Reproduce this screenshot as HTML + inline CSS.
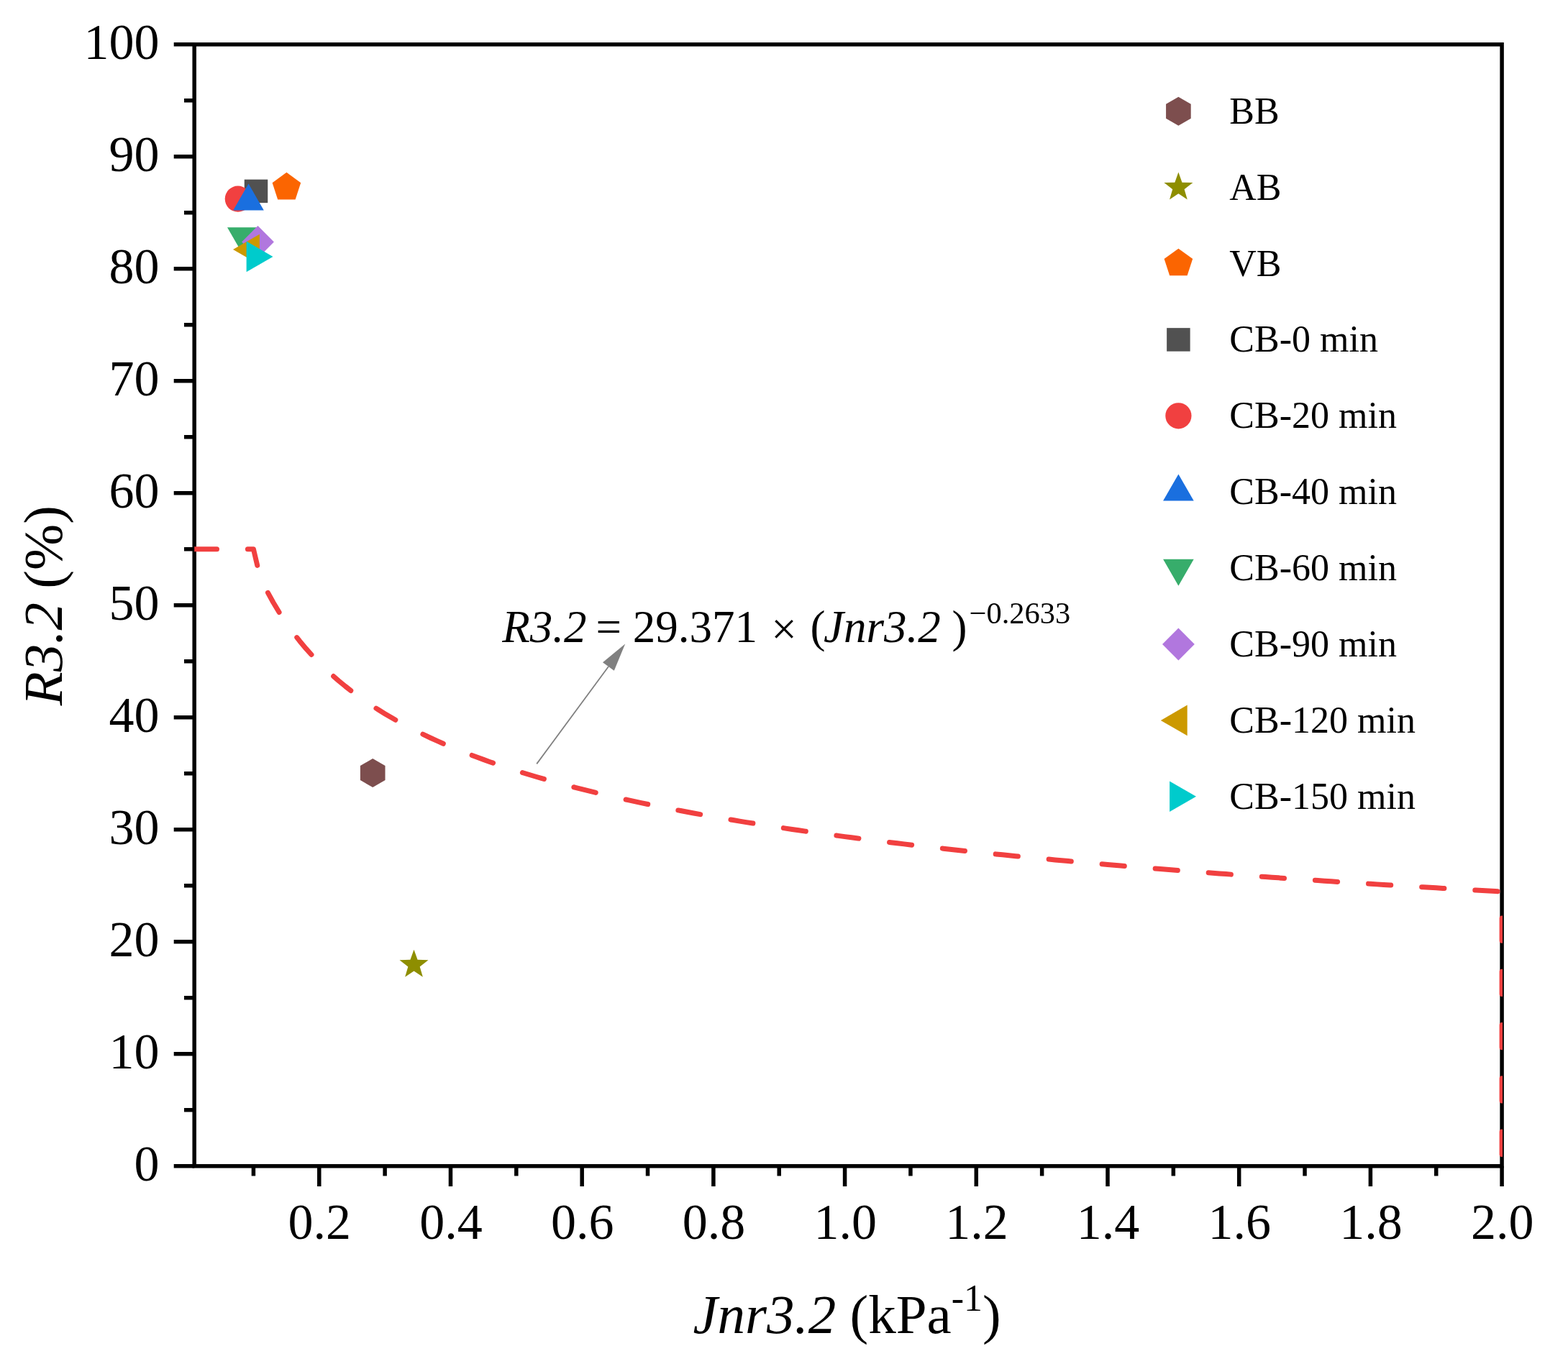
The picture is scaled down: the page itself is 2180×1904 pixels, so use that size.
<!DOCTYPE html>
<html><head><meta charset="utf-8"><title>R3.2 vs Jnr3.2</title>
<style>html,body{margin:0;padding:0;background:#fff;}svg{display:block;}text{font-family:"Liberation Serif", "Times New Roman", serif;fill:#000;}</style></head><body>
<svg width="2180" height="1904" viewBox="0 0 2180 1904">
<rect width="2180" height="1904" fill="#fff"/>
<rect x="270.20" y="61.80" width="1817.90" height="1560.00" fill="none" stroke="#000" stroke-width="5.50" stroke-linejoin="miter"/>
<path d="M270.20,1621.80H241.70M270.20,1543.80H256.00M270.20,1465.80H241.70M270.20,1387.80H256.00M270.20,1309.80H241.70M270.20,1231.80H256.00M270.20,1153.80H241.70M270.20,1075.80H256.00M270.20,997.80H241.70M270.20,919.80H256.00M270.20,841.80H241.70M270.20,763.80H256.00M270.20,685.80H241.70M270.20,607.80H256.00M270.20,529.80H241.70M270.20,451.80H256.00M270.20,373.80H241.70M270.20,295.80H256.00M270.20,217.80H241.70M270.20,139.80H256.00M270.20,61.80H241.70M352.42,1621.80V1635.40M443.77,1621.80V1650.00M535.12,1621.80V1635.40M626.47,1621.80V1650.00M717.82,1621.80V1635.40M809.18,1621.80V1650.00M900.53,1621.80V1635.40M991.88,1621.80V1650.00M1083.23,1621.80V1635.40M1174.58,1621.80V1650.00M1265.93,1621.80V1635.40M1357.29,1621.80V1650.00M1448.64,1621.80V1635.40M1539.99,1621.80V1650.00M1631.34,1621.80V1635.40M1722.69,1621.80V1650.00M1814.04,1621.80V1635.40M1905.40,1621.80V1650.00M1996.75,1621.80V1635.40M2088.10,1621.80V1650.00" stroke="#000" stroke-width="5.50" fill="none"/>
<clipPath id="pc"><rect x="270.20" y="61.80" width="1818.80" height="1560.00"/></clipPath>
<g clip-path="url(#pc)">
<path d="M270.20,763.80 L279.34,763.80 L288.47,763.80 L297.61,763.80 L306.74,763.80 L315.88,763.80 L325.01,763.80 L334.15,763.80 L343.28,763.80 L352.42,763.80 L361.55,802.50 L362.89,805.21" fill="none" stroke="#F14040" stroke-width="7" stroke-linecap="round" stroke-linejoin="round" stroke-dasharray="31.3 42.9"/>
<path d="M362.89,805.21 L370.69,821.05 L379.82,837.75 L388.96,852.90 L398.09,866.75 L407.23,879.47 L416.36,891.22 L425.50,902.14 L434.63,912.31 L443.77,921.83 L452.90,930.76 L462.04,939.17 L471.17,947.12 L480.31,954.63 L489.44,961.77 L498.58,968.55 L507.71,975.01 L516.85,981.17 L525.98,987.06 L535.12,992.70 L544.26,998.11 L553.39,1003.30 L562.53,1008.29 L571.66,1013.10 L580.80,1017.73 L589.93,1022.19 L599.07,1026.50 L608.20,1030.67 L617.34,1034.69 L626.47,1038.60 L635.61,1042.37 L644.74,1046.04 L653.88,1049.60 L663.01,1053.05 L672.15,1056.40 L681.28,1059.67 L690.42,1062.84 L699.55,1065.93 L708.69,1068.94 L717.82,1071.87 L726.96,1074.73 L736.09,1077.52 L745.23,1080.25 L754.36,1082.91 L763.50,1085.50 L772.63,1088.04 L781.77,1090.52 L790.91,1092.95 L800.04,1095.32 L809.18,1097.65 L818.31,1099.93 L827.45,1102.16 L836.58,1104.34 L845.72,1106.48 L854.85,1108.58 L863.99,1110.64 L873.12,1112.66 L882.26,1114.64 L891.39,1116.59 L900.53,1118.50 L909.66,1120.37 L918.80,1122.22 L927.93,1124.03 L937.07,1125.81 L946.20,1127.56 L955.34,1129.28 L964.47,1130.97 L973.61,1132.64 L982.74,1134.27 L991.88,1135.89 L1001.01,1137.47 L1010.15,1139.03 L1019.28,1140.57 L1028.42,1142.09 L1037.55,1143.58 L1046.69,1145.05 L1055.83,1146.50 L1064.96,1147.93 L1074.10,1149.34 L1083.23,1150.72 L1092.37,1152.09 L1101.50,1153.44 L1110.64,1154.77 L1119.77,1156.09 L1128.91,1157.38 L1138.04,1158.66 L1147.18,1159.92 L1156.31,1161.17 L1165.45,1162.40 L1174.58,1163.61 L1183.72,1164.81 L1192.85,1166.00 L1201.99,1167.16 L1211.12,1168.32 L1220.26,1169.46 L1229.39,1170.59 L1238.53,1171.70 L1247.66,1172.80 L1256.80,1173.89 L1265.93,1174.97 L1275.07,1176.03 L1284.20,1177.08 L1293.34,1178.12 L1302.47,1179.15 L1311.61,1180.17 L1320.75,1181.17 L1329.88,1182.17 L1339.02,1183.15 L1348.15,1184.12 L1357.29,1185.09 L1366.42,1186.04 L1375.56,1186.98 L1384.69,1187.92 L1393.83,1188.84 L1402.96,1189.76 L1412.10,1190.66 L1421.23,1191.56 L1430.37,1192.45 L1439.50,1193.33 L1448.64,1194.20 L1457.77,1195.06 L1466.91,1195.91 L1476.04,1196.76 L1485.18,1197.59 L1494.31,1198.42 L1503.45,1199.25 L1512.58,1200.06 L1521.72,1200.87 L1530.85,1201.67 L1539.99,1202.46 L1549.12,1203.24 L1558.26,1204.02 L1567.39,1204.79 L1576.53,1205.56 L1585.67,1206.32 L1594.80,1207.07 L1603.94,1207.81 L1613.07,1208.55 L1622.21,1209.28 L1631.34,1210.01 L1640.48,1210.73 L1649.61,1211.44 L1658.75,1212.15 L1667.88,1212.85 L1677.02,1213.55 L1686.15,1214.24 L1695.29,1214.92 L1704.42,1215.60 L1713.56,1216.28 L1722.69,1216.95 L1731.83,1217.61 L1740.96,1218.27 L1750.10,1218.92 L1759.23,1219.57 L1768.37,1220.21 L1777.50,1220.85 L1786.64,1221.48 L1795.77,1222.11 L1804.91,1222.74 L1814.04,1223.36 L1823.18,1223.97 L1832.32,1224.58 L1841.45,1225.19 L1850.59,1225.79 L1859.72,1226.39 L1868.86,1226.98 L1877.99,1227.57 L1887.13,1228.15 L1896.26,1228.73 L1905.40,1229.31 L1914.53,1229.88 L1923.67,1230.45 L1932.80,1231.01 L1941.94,1231.57 L1951.07,1232.13 L1960.21,1232.68 L1969.34,1233.23 L1978.48,1233.78 L1987.61,1234.32 L1996.75,1234.86 L2005.88,1235.39 L2015.02,1235.92 L2024.15,1236.45 L2033.29,1236.97 L2042.42,1237.49 L2051.56,1238.01 L2060.69,1238.53 L2069.83,1239.04 L2078.96,1239.54 L2088.10,1240.05 L2088.10,1621.80" fill="none" stroke="#F14040" stroke-width="7" stroke-linecap="round" stroke-linejoin="round" stroke-dasharray="31.30 42.98" stroke-dashoffset="52.88"/>
</g>
<polygon points="518.20,1055.10 535.52,1065.10 535.52,1085.10 518.20,1095.10 500.88,1085.10 500.88,1065.10" fill="#7D4E4E" />
<polygon points="575.50,1320.80 580.55,1334.84 595.47,1335.31 583.68,1344.46 587.84,1358.79 575.50,1350.40 563.16,1358.79 567.32,1344.46 555.53,1335.31 570.45,1334.84" fill="#8E8E00" />
<polygon points="398.40,239.80 418.18,254.17 410.63,277.43 386.17,277.43 378.62,254.17" fill="#FB6501" />
<rect x="339.75" y="249.65" width="32.50" height="32.50" fill="#515151"/>
<circle cx="330.80" cy="276.60" r="18.1" fill="#F14040"/>
<polygon points="345.50,255.50 366.80,292.40 324.20,292.40" fill="#1A6FDF" />
<polygon points="337.30,353.20 316.00,316.30 358.60,316.30" fill="#37AD6B" />
<polygon points="358.50,314.10 380.90,336.50 358.50,358.90 336.10,336.50" fill="#B177DE" />
<polygon points="324.00,347.00 360.90,325.70 360.90,368.30" fill="#CC9900" />
<polygon points="379.50,356.90 342.60,378.20 342.60,335.60" fill="#00CBCC" />
<line x1="746.2" y1="1062.4" x2="846" y2="927" stroke="#808080" stroke-width="1.8"/>
<polygon points="869.2,895.6 838.0,921.3 853.8,932.7" fill="#808080"/>
<text x="221.6" y="1642.10" font-size="70" text-anchor="end">0</text>
<text x="221.6" y="1486.10" font-size="70" text-anchor="end">10</text>
<text x="221.6" y="1330.10" font-size="70" text-anchor="end">20</text>
<text x="221.6" y="1174.10" font-size="70" text-anchor="end">30</text>
<text x="221.6" y="1018.10" font-size="70" text-anchor="end">40</text>
<text x="221.6" y="862.10" font-size="70" text-anchor="end">50</text>
<text x="221.6" y="706.10" font-size="70" text-anchor="end">60</text>
<text x="221.6" y="550.10" font-size="70" text-anchor="end">70</text>
<text x="221.6" y="394.10" font-size="70" text-anchor="end">80</text>
<text x="221.6" y="238.10" font-size="70" text-anchor="end">90</text>
<text x="221.6" y="82.10" font-size="70" text-anchor="end">100</text>
<text x="444.37" y="1723.2" font-size="70" text-anchor="middle">0.2</text>
<text x="627.07" y="1723.2" font-size="70" text-anchor="middle">0.4</text>
<text x="809.78" y="1723.2" font-size="70" text-anchor="middle">0.6</text>
<text x="992.48" y="1723.2" font-size="70" text-anchor="middle">0.8</text>
<text x="1175.18" y="1723.2" font-size="70" text-anchor="middle">1.0</text>
<text x="1357.89" y="1723.2" font-size="70" text-anchor="middle">1.2</text>
<text x="1540.59" y="1723.2" font-size="70" text-anchor="middle">1.4</text>
<text x="1723.29" y="1723.2" font-size="70" text-anchor="middle">1.6</text>
<text x="1906.00" y="1723.2" font-size="70" text-anchor="middle">1.8</text>
<text x="2088.70" y="1723.2" font-size="70" text-anchor="middle">2.0</text>
<text x="963.4" y="1853.8" font-size="77"><tspan font-style="italic">Jnr3.2</tspan> (kPa</text>
<text x="1322.7" y="1822.6" font-size="52">-1</text>
<text x="1366.0" y="1853.8" font-size="77">)</text>
<text transform="translate(86,981.2) rotate(-90)" font-size="77"><tspan font-style="italic">R3.2</tspan> (%)</text>
<text y="892.5" font-size="63" style="white-space:pre"><tspan x="698.3" font-style="italic">R3.2</tspan><tspan x="812.65"> =</tspan><tspan x="864.05"> 29.371</tspan><tspan x="1056.45" dy="3.3"> ×</tspan><tspan x="1110.85" dy="-3.3"> (</tspan><tspan x="1145.1" font-style="italic">Jnr3.2</tspan><tspan x="1307.75"> )</tspan></text>
<text x="1347.5" y="867.2" font-size="42.5">−0.2633</text>
<polygon points="1638.40,134.70 1655.72,144.70 1655.72,164.70 1638.40,174.70 1621.08,164.70 1621.08,144.70" fill="#7D4E4E" />
<text x="1709.3" y="171.70" font-size="52">BB</text>
<polygon points="1638.40,239.60 1643.45,253.64 1658.37,254.11 1646.58,263.26 1650.74,277.59 1638.40,269.20 1626.06,277.59 1630.22,263.26 1618.43,254.11 1633.35,253.64" fill="#8E8E00" />
<text x="1709.3" y="277.60" font-size="52">AB</text>
<polygon points="1638.40,345.70 1658.18,360.07 1650.63,383.33 1626.17,383.33 1618.62,360.07" fill="#FB6501" />
<text x="1709.3" y="383.50" font-size="52">VB</text>
<rect x="1622.15" y="456.15" width="32.50" height="32.50" fill="#515151"/>
<text x="1709.3" y="489.40" font-size="52">CB-0 min</text>
<circle cx="1638.40" cy="578.30" r="18.1" fill="#F14040"/>
<text x="1709.3" y="595.30" font-size="52">CB-20 min</text>
<polygon points="1638.40,659.60 1659.70,696.50 1617.10,696.50" fill="#1A6FDF" />
<text x="1709.3" y="701.20" font-size="52">CB-40 min</text>
<polygon points="1638.40,814.70 1617.10,777.80 1659.70,777.80" fill="#37AD6B" />
<text x="1709.3" y="807.10" font-size="52">CB-60 min</text>
<polygon points="1638.40,873.60 1660.80,896.00 1638.40,918.40 1616.00,896.00" fill="#B177DE" />
<text x="1709.3" y="913.00" font-size="52">CB-90 min</text>
<polygon points="1613.80,1001.90 1650.70,980.60 1650.70,1023.20" fill="#CC9900" />
<text x="1709.3" y="1018.90" font-size="52">CB-120 min</text>
<polygon points="1663.00,1107.80 1626.10,1129.10 1626.10,1086.50" fill="#00CBCC" />
<text x="1709.3" y="1124.80" font-size="52">CB-150 min</text>
</svg>
</body></html>
